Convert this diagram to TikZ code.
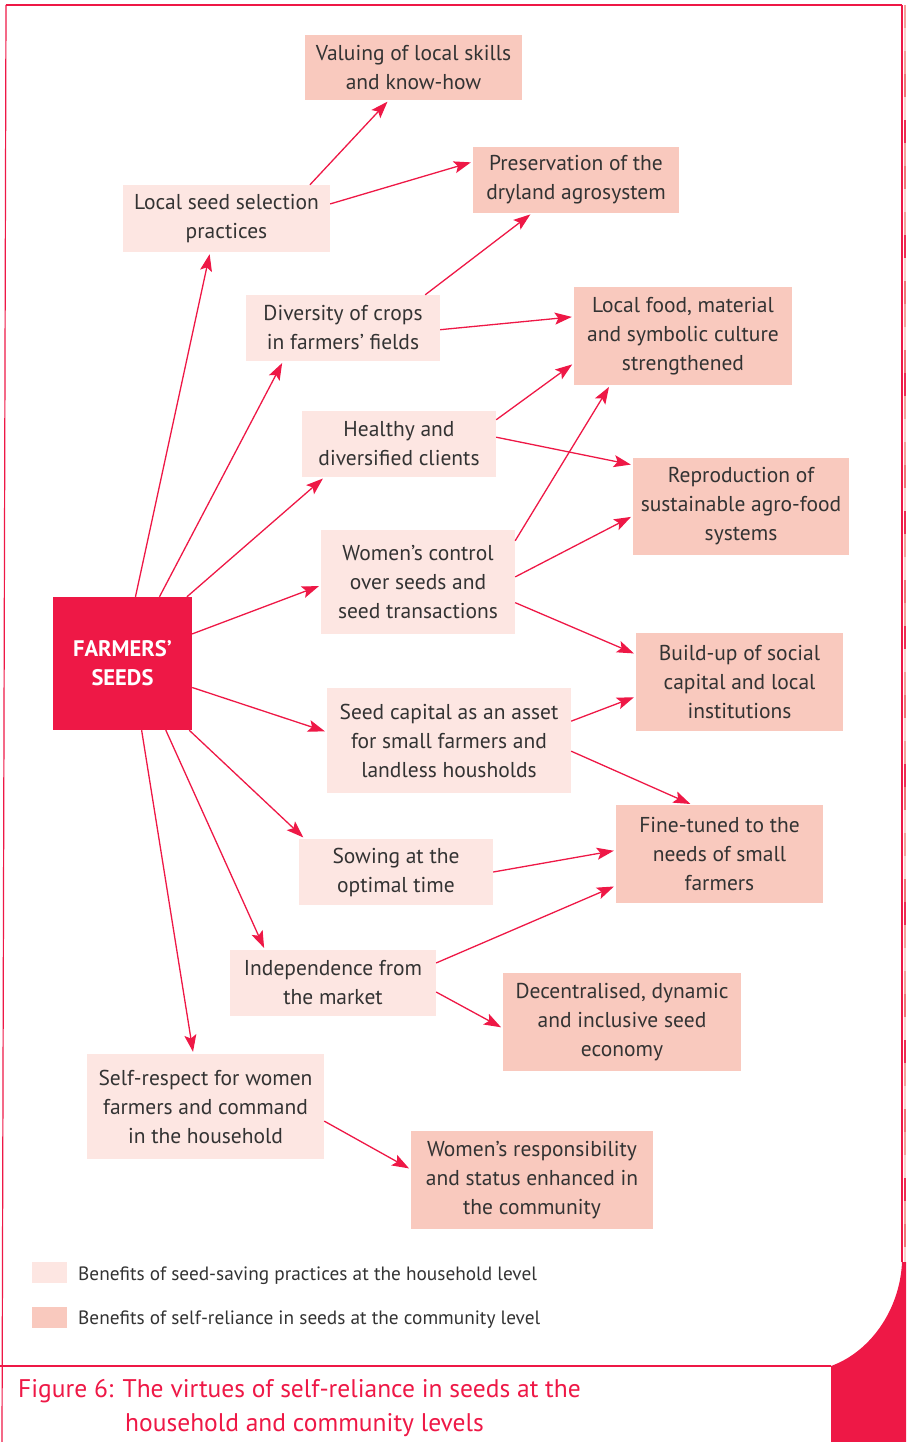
\documentclass[tikz,border=0pt]{standalone}
\usepackage{fontspec}
\setmainfont{PT Sans}
\usetikzlibrary{arrows.meta}
\definecolor{seedred}{HTML}{EE1846}
\definecolor{hhfill}{HTML}{FDE6E2}
\definecolor{cmfill}{HTML}{F9C9BE}
\definecolor{txt}{HTML}{333333}
\definecolor{stripA}{HTML}{F6A09B}
\definecolor{stripB}{HTML}{FBCFCB}
\definecolor{stripC}{HTML}{EE2D52}
\definecolor{stripD}{HTML}{F27478}
\begin{document}
\begin{tikzpicture}[x=1pt,y=-1pt,
  box/.style={inner sep=0pt, align=center, text=txt, font=\fontsize{21.5}{29}\selectfont},
  hbox/.style={box, fill=hhfill},
  cbox/.style={box, fill=cmfill},
  link/.style={draw=seedred, line width=1.3pt, -{Stealth[length=17pt,width=12pt,inset=3.5pt]}, shorten >=2pt},
  frame/.style={draw=seedred, line width=1.2pt},
  swatch/.style={inner sep=0pt, minimum width=35pt, minimum height=21pt},
  legendtext/.style={anchor=west, inner sep=0pt, text=txt, font=\fontsize{19.3}{22}\selectfont},
  captiontext/.style={anchor=base west, inner sep=0pt, text=seedred, font=\fontsize{25.5}{30}\selectfont}
]
\useasboundingbox (0,0) rectangle (906,1442);

% page edge strip
\foreach \c [count=\i from 0] in {A,B,A,D,B,C,A,D,B,A,C,B,D,A,B,D,C,A,B,A,D,B,C,A,B,D,A,C,B,A,D,B,A,C,D,B,A,B,D,C,A,B,A,D,B,C,A,B,D,A,B,C,A,D,B}{
  \fill[strip\c] (903.5,{5+23*\i}) rectangle (906,{min(5+23*(\i+1),1262)});
}

% frame
\draw[frame] (6,5) -- (902,5);
\draw[frame] (6,5) -- (2,1442);
\draw[frame] (902,5) -- (902,1262);
\draw[frame] (0,1366) -- (831,1366);
\fill[seedred] (831,1442) -- (831,1366) .. controls (870,1352) and (900,1310) .. (902,1262)
  -- (906,1262) -- (906,1442) -- cycle;

% central node
\node[fill=seedred, minimum width=139pt, minimum height=133pt, inner sep=0pt, align=center,
  text=white, font=\fontsize{22.5}{29}\selectfont\bfseries] (fs) at (122.5,663.5) {FARMERS’\\SEEDS};

% household level benefits
\node[hbox, minimum width=207pt, minimum height=67pt] (h1) at (226.5,218.5) {Local seed selection\\practices};
\node[hbox, minimum width=194pt, minimum height=66pt] (h2) at (343,328) {Diversity of crops\\in farmers’ fields};
\node[hbox, minimum width=194pt, minimum height=66pt] (h3) at (399,444) {Healthy and\\diversified clients};
\node[hbox, minimum width=194pt, minimum height=104pt] (h4) at (418,582) {Women’s control\\over seeds and\\seed transactions};
\node[hbox, minimum width=244pt, minimum height=105pt] (h5) at (449,740.5) {Seed capital as an asset\\for small farmers and\\landless housholds};
\node[hbox, minimum width=194pt, minimum height=66pt] (h6) at (396,872) {Sowing at the\\optimal time};
\node[hbox, minimum width=206pt, minimum height=66pt] (h7) at (333,983) {Independence from\\the market};
\node[hbox, minimum width=237pt, minimum height=105pt] (h8) at (205.5,1106.5) {Self-respect for women\\farmers and command\\in the household};

% community level benefits
\node[cbox, minimum width=217pt, minimum height=65pt] (a1) at (413.5,67.5) {Valuing of local skills\\and know-how};
\node[cbox, minimum width=206pt, minimum height=66pt] (a2) at (576,180) {Preservation of the\\dryland agrosystem};
\node[cbox, minimum width=218pt, minimum height=98pt] (a3) at (683,336) {Local food, material\\and symbolic culture\\strengthened};
\node[cbox, minimum width=216pt, minimum height=97pt] (a4) at (741,506.5) {Reproduction of\\sustainable agro-food\\systems};
\node[cbox, minimum width=207pt, minimum height=98pt] (a5) at (739.5,682) {Build-up of social\\capital and local\\institutions};
\node[cbox, minimum width=207pt, minimum height=98pt] (a6) at (719.5,854) {Fine-tuned to the\\needs of small\\farmers};
\node[cbox, minimum width=238pt, minimum height=98pt] (a7) at (622,1022) {Decentralised, dynamic\\and inclusive seed\\economy};
\node[cbox, minimum width=242pt, minimum height=98pt] (a8) at (532,1180) {Women’s responsibility\\and status enhanced in\\the community};

% farmers' seeds to household benefits
\draw[link] (fs.79.35) -- (h1.-116.3);
\draw[link] (fs.61.9) -- (h2.-151.3);
\draw[link] (fs.46.8) -- (h3.-156.2);
\draw[link] (fs.23.0) -- (h4.-178.3);
\draw[link] (fs.-19.4) -- (h5.176.0);
\draw[link] (fs.-45.4) -- (h6.160.9);
\draw[link] (fs.-57.4) -- (h7.154.7);
\draw[link] (fs.-74.5) -- (h8.103.7);

% household benefits to community benefits
\draw[link] (h1.22.85) -- (a1.-127);
\draw[link] (h1.8.0) -- (a2.170.9);
\draw[link] (h2.22.4) -- (a2.-143.1);
\draw[link] (h2.-1.2) -- (a3.170.8);
\draw[link] (h3.14.5) -- (a3.-166.8);
\draw[link] (h3.4.7) -- (a4.159.8);
\draw[link] (h4.23.4) -- (a3.-146.5);
\draw[link] (h4.3.0) -- (a4.-175.6);
\draw[link] (h4.-12.8) -- (a5.165.6);
\draw[link] (h5.9.5) -- (a5.-172.4);
\draw[link] (h5.-5.4) -- (a6.119.3);
\draw[link] (h6.-0.6) -- (a6.178.9);
\draw[link] (h7.11.0) -- (a6.-163.0);
\draw[link] (h7.-5.0) -- (a7.-177.6);
\draw[link] (h8.-7.5) -- (a8.175.3);

% legend
\node[swatch, fill=hhfill] (k1) at (49.5,1272.5) {};
\node[legendtext] (k1t) at (78,1276) {Benefits of seed-saving practices at the household level};
\node[swatch, fill=cmfill] (k2) at (49.5,1317.5) {};
\node[legendtext] (k2t) at (78,1320) {Benefits of self-reliance in seeds at the community level};

% caption
\node[captiontext] (cap1) at (18,1397) {Figure 6: The virtues of self-reliance in seeds at the};
\node[captiontext] (cap2) at (125,1431) {household and community levels};
\end{tikzpicture}
\end{document}
